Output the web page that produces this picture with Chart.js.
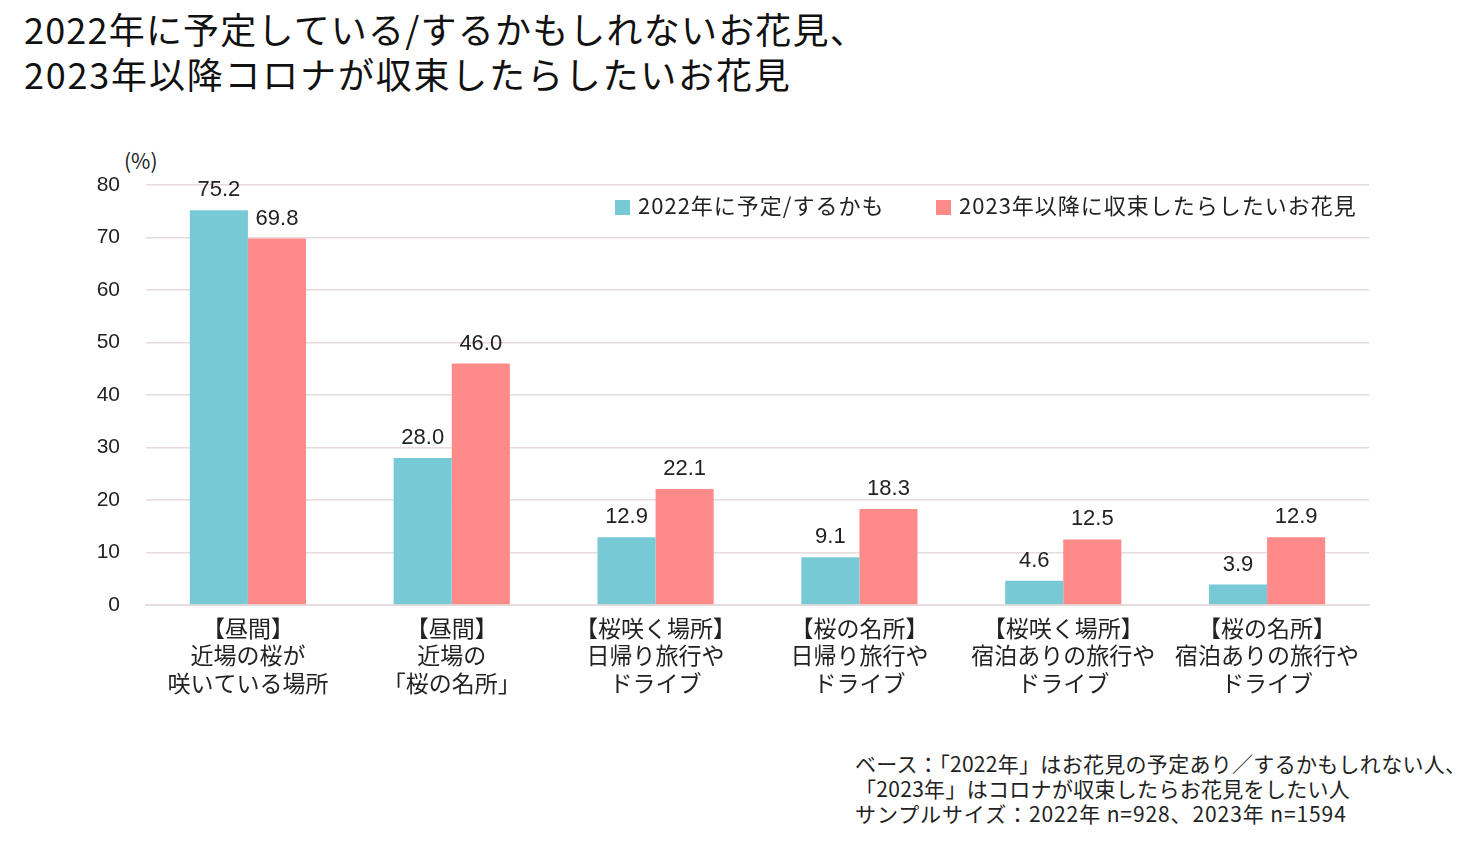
<!DOCTYPE html>
<html lang="ja">
<head>
<meta charset="utf-8">
<script src="https://cdn.jsdelivr.net/npm/chart.js@4.4.0/dist/chart.umd.min.js"></script>
<style>
  body { margin: 0; background: #fff; font-family: "Noto Sans CJK JP", sans-serif; color: #111; }
  #page { position: relative; width: 1483px; height: 842px; overflow: hidden; }
  .title { position: absolute; left: 24px; font-size: 36px; line-height: 45px; letter-spacing: 1.2px; white-space: nowrap; }
  #chartBox { position: absolute; left: 0; top: 140px; width: 1483px; height: 570px; }
  .unit { position: absolute; left: 124px; top: 145px; font-size: 21px; color: #222; }
  .legend { position: absolute; top: 188px; font-size: 22px; letter-spacing: 1px; color: #222; white-space: nowrap; }
  .legend span.box { display: inline-block; width: 15px; height: 15px; margin-right: 8px; vertical-align: -1px; }
  .note { position: absolute; left: 855px; top: 751px; font-size: 21px; line-height: 25px; letter-spacing: 0.3px; color: #222; white-space: nowrap; }
</style>
</head>
<body>
<div id="page">
  <div class="title" style="top:6px;">2022年に予定している/するかもしれないお花見、</div>
  <div class="title" style="top:51px; letter-spacing:1.8px;">2023年以降コロナが収束したらしたいお花見</div>
  <div class="unit">(%)</div>
  <div id="chartBox"><canvas id="chart"></canvas></div>
  <div class="legend" style="left:615px;"><span class="box" style="background:#78C9D6"></span>2022年に予定/するかも</div>
  <div class="legend" style="left:936px;"><span class="box" style="background:#FF8A8A"></span>2023年以降に収束したらしたいお花見</div>
  <div class="note">ベース：「2022年」はお花見の予定あり／するかもしれない人、<br>「2023年」はコロナが収束したらお花見をしたい人<br><span style="letter-spacing:0.9px">サンプルサイズ：2022年 n=928、2023年 n=1594</span></div>
</div>
<script>
// categories (multi-line labels)
let categories = [
    ['【昼間】', '近場の桜が', '咲いている場所'],
    ['【昼間】', '近場の', '「桜の名所」'],
    ['【桜咲く場所】', '日帰り旅行や', 'ドライブ'],
    ['【桜の名所】', '日帰り旅行や', 'ドライブ'],
    ['【桜咲く場所】', '宿泊ありの旅行や', 'ドライブ'],
    ['【桜の名所】', '宿泊ありの旅行や', 'ドライブ']
];
let values2022 = [75.2, 28.0, 12.9, 9.1, 4.6, 3.9];
let values2023 = [69.8, 46.0, 22.1, 18.3, 12.5, 12.9];
let seriesNames = ['2022年に予定/するかも', '2023年以降に収束したらしたいお花見'];

// value labels above the bars
const barLabels = {
    id: 'barLabels',
    afterDatasetsDraw(chart) {
        const ctx = chart.ctx;
        ctx.save();
        ctx.font = '22px "Liberation Sans", Arial, sans-serif';
        ctx.fillStyle = '#222';
        ctx.textAlign = 'center';
        ctx.textBaseline = 'alphabetic';
        chart.data.datasets.forEach((ds, i) => {
            chart.getDatasetMeta(i).data.forEach((bar, j) => {
                ctx.fillText(ds.data[j].toFixed(1), bar.x, bar.y - 14);
            });
        });
        ctx.restore();
    }
};

const ctx = document.getElementById('chart').getContext('2d');
new Chart(ctx, {
    type: 'bar',
    data: {
        labels: categories,
        datasets: [
            {
                label: seriesNames[0],
                backgroundColor: '#78C9D6',
                data: values2022
            },
            {
                label: seriesNames[1],
                backgroundColor: '#FF8A8A',
                data: values2023
            }
        ]
    },
    options: {
        responsive: true,
        maintainAspectRatio: false,
        animation: false,
        layout: { padding: { top: 45, right: 114, left: 0, bottom: 0 } },
        datasets: { bar: { categoryPercentage: 0.57, barPercentage: 1.0 } },
        plugins: {
            legend: { display: false },
            tooltip: { enabled: false }
        },
        scales: {
            x: {
                grid: { display: false },
                border: { display: true, color: '#E6DCDC', width: 2 },
                ticks: {
                    color: '#222',
                    padding: 1,
                    maxRotation: 0,
                    autoSkip: false,
                    font: { family: '"Noto Sans CJK JP", sans-serif', size: 23, lineHeight: 1.2 }
                },
                afterFit(scale) { scale.height = 105; }
            },
            y: {
                min: 0,
                max: 80,
                grid: { color: '#E6DCDC', lineWidth: 1.5, drawTicks: false },
                border: { display: false },
                ticks: {
                    stepSize: 10,
                    color: '#222',
                    padding: 26,
                    font: { family: '"Liberation Sans", Arial, sans-serif', size: 21 }
                },
                afterFit(scale) { scale.width = 146; }
            }
        }
    },
    plugins: [barLabels]
});
</script>
</body>
</html>
